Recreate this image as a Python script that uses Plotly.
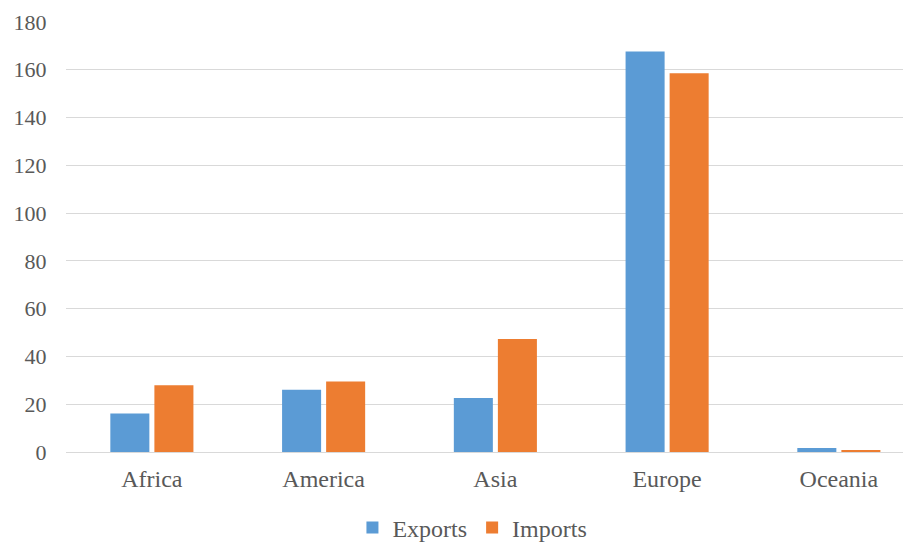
import plotly.graph_objects as go

regions = ["Africa", "America", "Asia", "Europe", "Oceania"]
exports = [16.1, 26.1, 22.6, 167.6, 1.7]
imports = [27.9, 29.5, 47.3, 158.5, 0.7]
y_ticks = [0, 20, 40, 60, 80, 100, 120, 140, 160, 180]

font_family = "Times New Roman, Liberation Serif, serif"
text_color = "#595959"

fig = go.Figure()
fig.add_trace(go.Bar(name="Exports", x=regions, y=exports, marker_color="#5B9BD5",
                     marker_line_width=0))
fig.add_trace(go.Bar(name="Imports", x=regions, y=imports, marker_color="#ED7D31",
                     marker_line_width=0))

# the page adds an 8px body margin, so the figure is drawn 8px smaller
fig.update_layout(
    width=903, height=535,
    margin=dict(l=58, r=0, t=14, b=91, autoexpand=False),
    paper_bgcolor="white", plot_bgcolor="white",
    barmode="group", bargap=0.487, bargroupgap=0.114,
    font=dict(family=font_family, size=24, color=text_color),
    showlegend=True,
    legend=dict(orientation="h", x=0.481, xref="paper", xanchor="center",
                y=-0.2286, yanchor="bottom",
                font=dict(family=font_family, size=24, color=text_color),
                itemwidth=30, traceorder="normal"),
    xaxis=dict(range=[-0.5, 4.42], showgrid=False, showline=False, zeroline=False,
               automargin=False,
               ticks="outside", ticklen=5, tickcolor="rgba(0,0,0,0)",
               tickfont=dict(family=font_family, size=24, color=text_color)),
    yaxis=dict(range=[0, 180], tickvals=y_ticks, showgrid=True, gridcolor="#d9d9d9",
               gridwidth=1, zeroline=True, zerolinecolor="#d9d9d9", zerolinewidth=1,
               automargin=False, showline=False,
               ticks="outside", ticklen=14, tickcolor="rgba(0,0,0,0)",
               tickfont=dict(family=font_family, size=22, color=text_color)),
)

fig.write_html("out.html")
